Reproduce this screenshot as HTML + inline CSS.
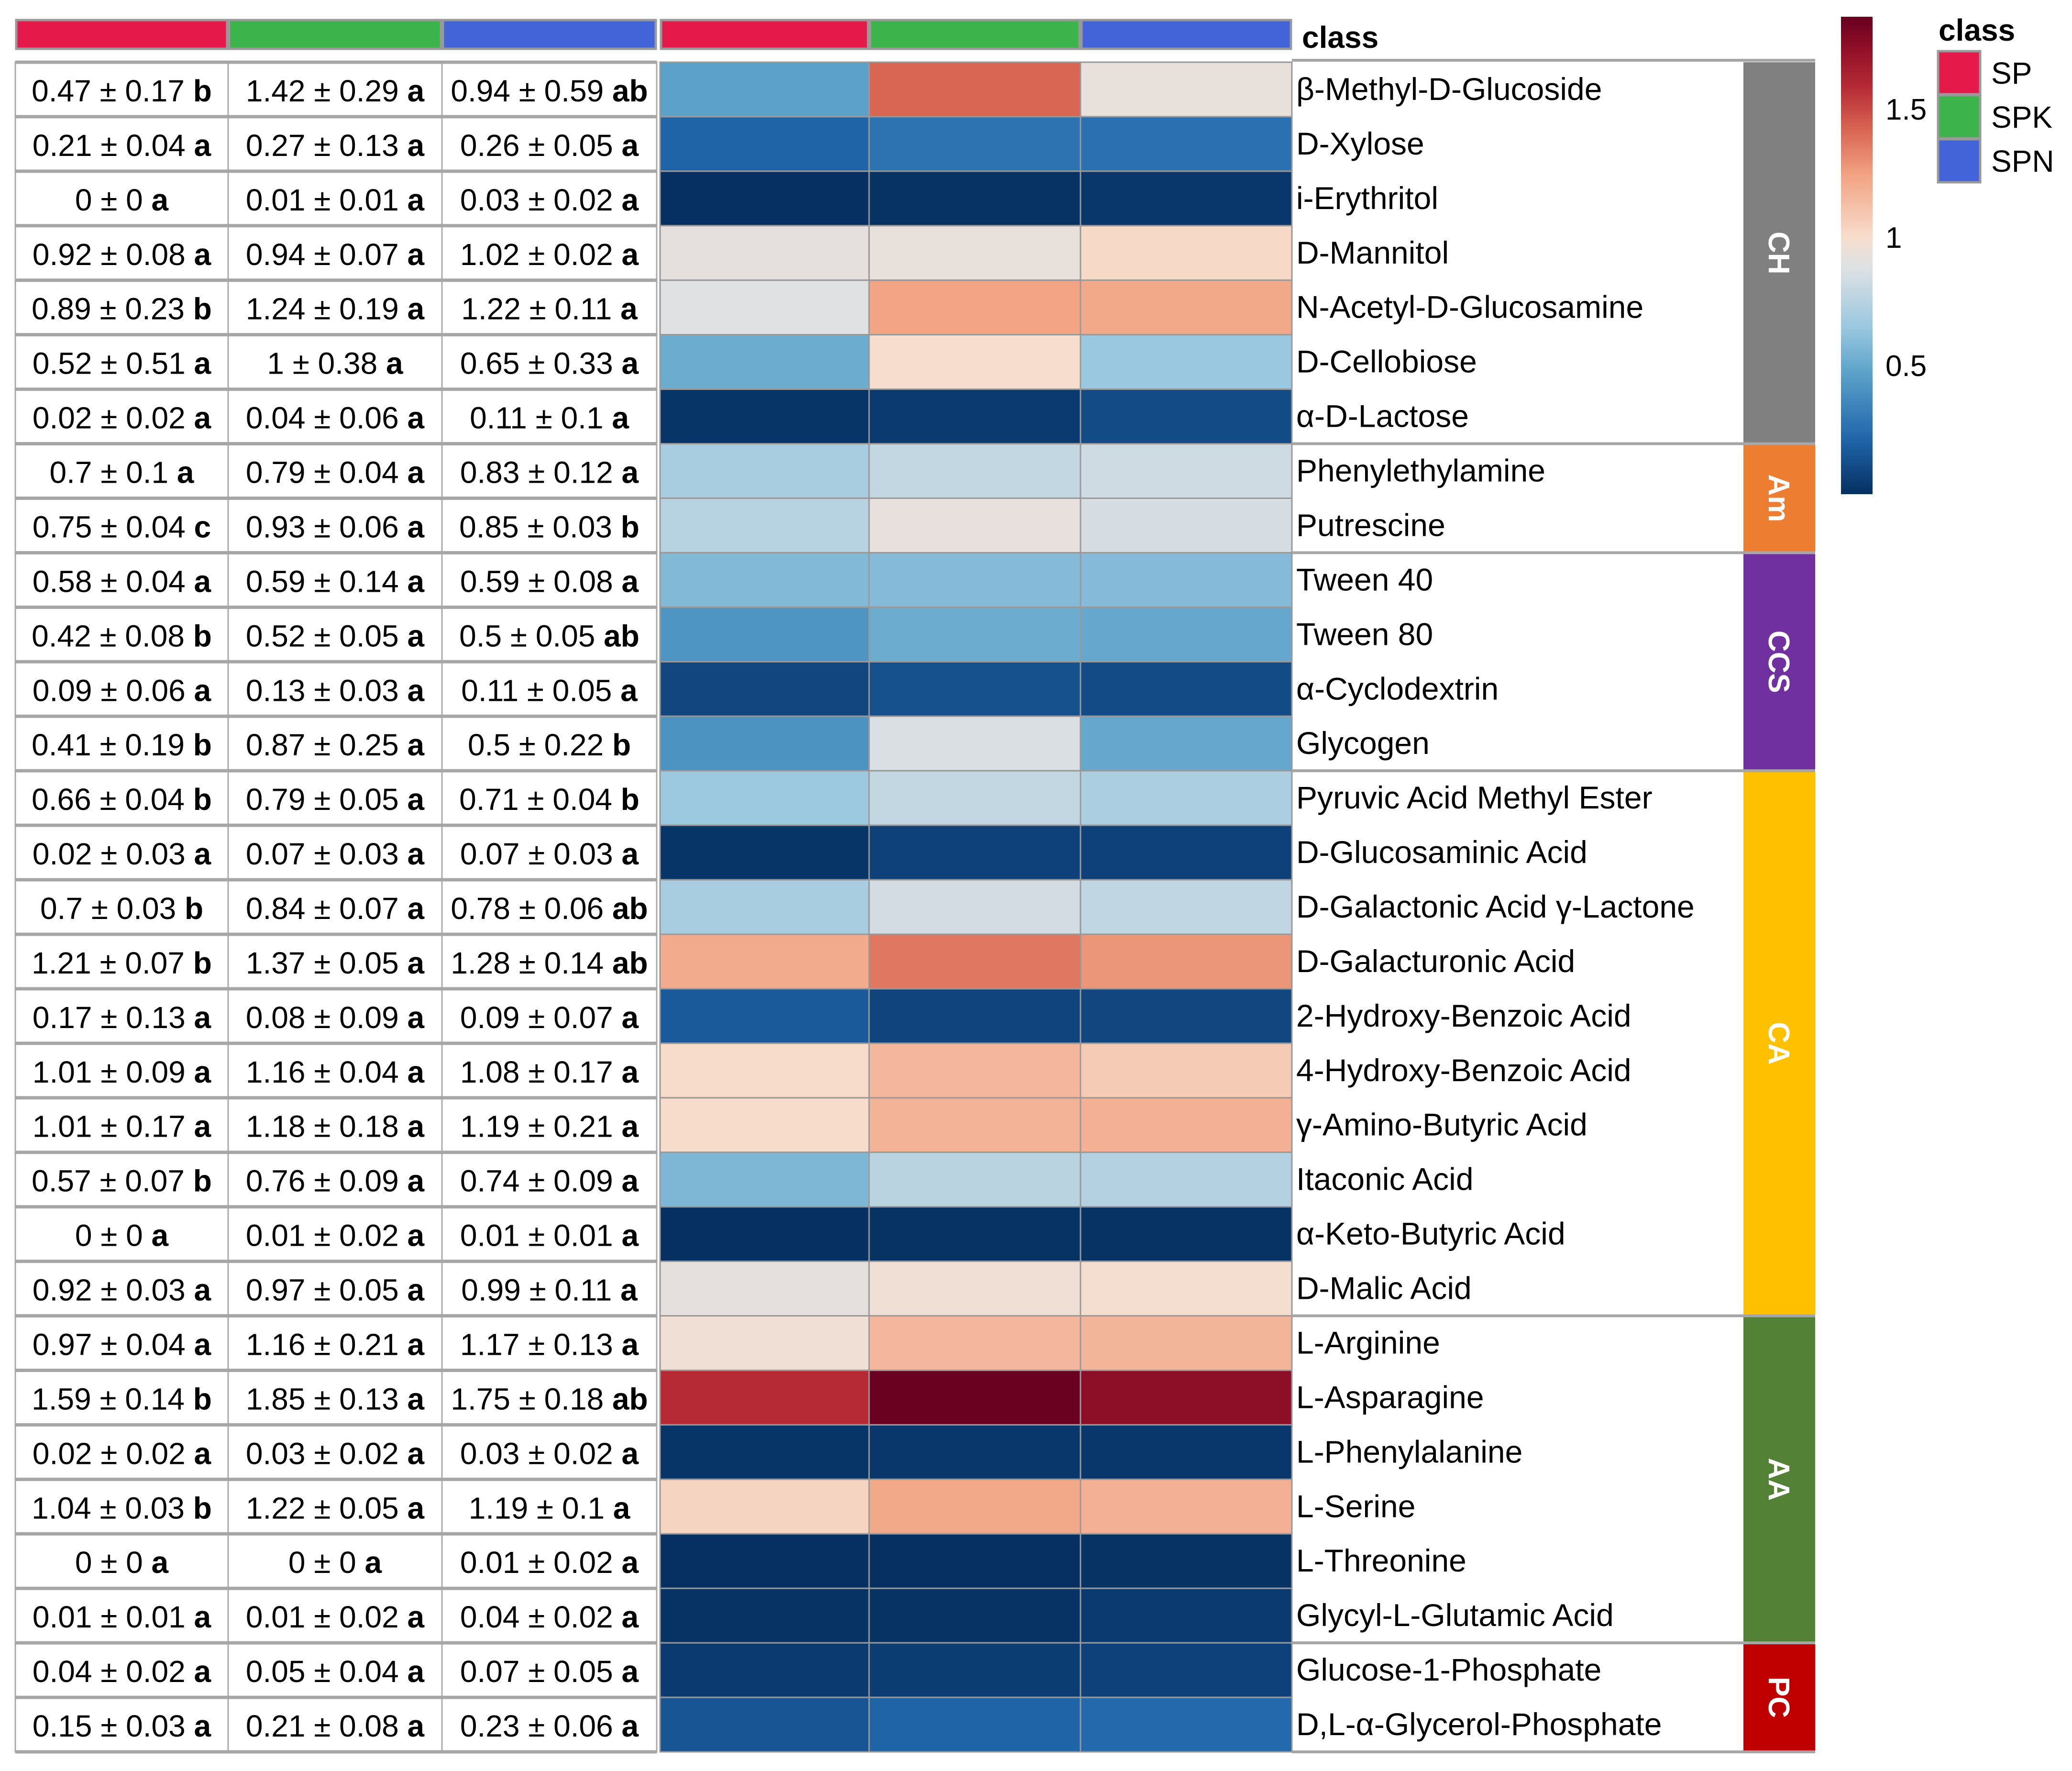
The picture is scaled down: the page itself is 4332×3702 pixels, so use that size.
<!DOCTYPE html>
<html><head><meta charset="utf-8"><style>
html,body{margin:0;padding:0;background:#fff;}
svg{display:block;font-family:"Liberation Sans","DejaVu Sans",sans-serif;}
</style></head><body>
<svg id="chart" width="4332" height="3702" viewBox="0 0 4332 3702" xmlns="http://www.w3.org/2000/svg"></svg>
<script>
const labels=["β-Methyl-D-Glucoside","D-Xylose","i-Erythritol","D-Mannitol","N-Acetyl-D-Glucosamine","D-Cellobiose","α-D-Lactose","Phenylethylamine","Putrescine","Tween 40","Tween 80","α-Cyclodextrin","Glycogen","Pyruvic Acid Methyl Ester","D-Glucosaminic Acid","D-Galactonic Acid γ-Lactone","D-Galacturonic Acid","2-Hydroxy-Benzoic Acid","4-Hydroxy-Benzoic Acid","γ-Amino-Butyric Acid","Itaconic Acid","α-Keto-Butyric Acid","D-Malic Acid","L-Arginine","L-Asparagine","L-Phenylalanine","L-Serine","L-Threonine","Glycyl-L-Glutamic Acid","Glucose-1-Phosphate","D,L-α-Glycerol-Phosphate"];
const meanSP=[0.47,0.21,0,0.92,0.89,0.52,0.02,0.7,0.75,0.58,0.42,0.09,0.41,0.66,0.02,0.7,1.21,0.17,1.01,1.01,0.57,0,0.92,0.97,1.59,0.02,1.04,0,0.01,0.04,0.15];
const sdSP=[0.17,0.04,0,0.08,0.23,0.51,0.02,0.1,0.04,0.04,0.08,0.06,0.19,0.04,0.03,0.03,0.07,0.13,0.09,0.17,0.07,0,0.03,0.04,0.14,0.02,0.03,0,0.01,0.02,0.03];
const letSP=["b","a","a","a","b","a","a","a","c","a","b","a","b","b","a","b","b","a","a","a","b","a","a","a","b","a","b","a","a","a","a"];
const meanSPK=[1.42,0.27,0.01,0.94,1.24,1,0.04,0.79,0.93,0.59,0.52,0.13,0.87,0.79,0.07,0.84,1.37,0.08,1.16,1.18,0.76,0.01,0.97,1.16,1.85,0.03,1.22,0,0.01,0.05,0.21];
const sdSPK=[0.29,0.13,0.01,0.07,0.19,0.38,0.06,0.04,0.06,0.14,0.05,0.03,0.25,0.05,0.03,0.07,0.05,0.09,0.04,0.18,0.09,0.02,0.05,0.21,0.13,0.02,0.05,0,0.02,0.04,0.08];
const letSPK=["a","a","a","a","a","a","a","a","a","a","a","a","a","a","a","a","a","a","a","a","a","a","a","a","a","a","a","a","a","a","a"];
const meanSPN=[0.94,0.26,0.03,1.02,1.22,0.65,0.11,0.83,0.85,0.59,0.5,0.11,0.5,0.71,0.07,0.78,1.28,0.09,1.08,1.19,0.74,0.01,0.99,1.17,1.75,0.03,1.19,0.01,0.04,0.07,0.23];
const sdSPN=[0.59,0.05,0.02,0.02,0.11,0.33,0.1,0.12,0.03,0.08,0.05,0.05,0.22,0.04,0.03,0.06,0.14,0.07,0.17,0.21,0.09,0.01,0.11,0.13,0.18,0.02,0.1,0.02,0.02,0.05,0.06];
const letSPN=["ab","a","a","a","a","a","a","a","b","a","ab","a","b","b","a","ab","ab","a","a","a","a","a","a","a","ab","a","a","a","a","a","a"];
const groupNames=["CH","Am","CCS","CA","AA","PC"];
const groupSizes=[7,2,4,10,6,2];
const groupColors=["#808080","#ED7D31","#7030A0","#FFC000","#538135","#C00000"];
const classNames=["SP","SPK","SPN"];
const classColors=["#E6194B","#3CB44B","#4363D8"];
const colorTicks=[0.5,1,1.5];
const vmin=0, vmax=1.86;

const NS="http://www.w3.org/2000/svg";
const svg=document.getElementById('chart');
function el(tag,attrs,parent){const e=document.createElementNS(NS,tag);for(const k in attrs)e.setAttribute(k,attrs[k]);(parent||svg).appendChild(e);return e;}
const top0=130, rowH=(3662-130)/31;
const rowY=i=>top0+i*rowH;
const tabX=[32,477,924,1373];
const hmX=[1380,1817,2259,2701];
// colour scale stops (fraction of range -> colour)
const stopT=[0,0.113,0.145,0.253,0.35,0.478,0.505,0.54,0.667,0.763,0.855,0.94,1];
const stopC=["#053061","#2064A8","#2D72B1","#5BA1C9","#9AC8E0","#E0E1E3","#E8E0DB","#F7DDCD","#F2A484","#D96653","#B52A35","#8D0E27","#67001F"];
function hex(c){return [1,3,5].map(i=>parseInt(c.substr(i,2),16));}
function color(v){let t=(v-vmin)/(vmax-vmin);t=Math.max(0,Math.min(1,t));let i=0;while(i<stopT.length-2&&t>stopT[i+1])i++;const f=(t-stopT[i])/(stopT[i+1]-stopT[i]);const a=hex(stopC[i]),b=hex(stopC[i+1]);return "rgb("+a.map((x,k)=>Math.round(x+(b[k]-x)*f)).join(",")+")";}

for(let k=0;k<3;k++){
  let r=el('rect',{x:tabX[k]+2,y:42,width:tabX[k+1]-tabX[k]-4,height:60,fill:classColors[k],stroke:'#999',"stroke-width":5});
  
  
  let r2=el('rect',{x:hmX[k]+2,y:42,width:hmX[k+1]-hmX[k]-4,height:60,fill:classColors[k],stroke:'#999',"stroke-width":5});
  
  
}
let ct=el('text',{x:2722,y:100,"font-size":64,"font-weight":"bold",fill:"#000"});ct.textContent="class";



el('rect',{x:2701,y:126,width:3645-2701,height:3662-126,fill:'#fff'});
el('line',{x1:2701,y1:126,x2:3795,y2:126,stroke:'#a6a6a6',"stroke-width":6});

const means=[meanSP,meanSPK,meanSPN], sds=[sdSP,sdSPK,sdSPN], lets=[letSP,letSPK,letSPN];
for(let i=0;i<labels.length;i++){
  const y=rowY(i);
  for(let k=0;k<3;k++){
    const c=el('rect',{x:tabX[k],y:y,width:tabX[k+1]-tabX[k],height:rowH,fill:'#fff',stroke:'#aaa',"stroke-width":3});
    
    
    const t=el('text',{x:(tabX[k]+tabX[k+1])/2,y:y+rowH/2+25,"font-size":64,"text-anchor":"middle",fill:"#000"});
    
    
    t.appendChild(document.createTextNode(means[k][i]+" ± "+sds[k][i]+" "));
    const b=el('tspan',{"font-weight":"bold"},t);b.textContent=lets[k][i];
    const h=el('rect',{x:hmX[k],y:y,width:hmX[k+1]-hmX[k],height:rowH,fill:color(means[k][i]),stroke:'#999',"stroke-width":3});
    
    
  }
  el('line',{x1:tabX[0],y1:y,x2:tabX[3],y2:y,stroke:'#a6a6a6',"stroke-width":7});
  const l=el('text',{x:2710,y:y+rowH/2+22,"font-size":66,fill:"#000"});
  l.textContent=labels[i];
  
  
}
el('line',{x1:tabX[0],y1:3662,x2:tabX[3],y2:3662,stroke:'#a6a6a6',"stroke-width":7});

let gi=0;
for(let g=0;g<groupNames.length;g++){
  const y0=rowY(gi), y1=rowY(gi+groupSizes[g]);
  const r=el('rect',{x:3645,y:y0,width:150,height:y1-y0,fill:groupColors[g]});
  
  
  if(g>0){el('line',{x1:2701,y1:y0,x2:3795,y2:y0,stroke:'#a6a6a6',"stroke-width":6});}
  const cy=(y0+y1)/2;
  const t=el('text',{x:0,y:0,"font-size":62,"font-weight":"bold",fill:"#fff","text-anchor":"middle",transform:`translate(3698,${cy}) rotate(90)`});
  t.textContent=groupNames[g];
  
  
  gi+=groupSizes[g];
}
el('line',{x1:2701,y1:3662,x2:3795,y2:3662,stroke:'#a6a6a6',"stroke-width":6});

const cbTop=35, cbBot=1032, cbX=3849, cbW=66;
const cbY=v=>cbBot-(v-vmin)/(vmax-vmin)*(cbBot-cbTop);
const cbg=el('g',{});


const N=200;
for(let j=0;j<N;j++){
  const v0=vmin+(vmax-vmin)*j/N, v1=vmin+(vmax-vmin)*(j+1)/N;
  el('rect',{x:cbX,y:cbY(v1),width:cbW,height:cbY(v0)-cbY(v1)+1,fill:color((v0+v1)/2)},cbg);
}
colorTicks.forEach(v=>{
  const t=el('text',{x:3942,y:cbY(v)+22,"font-size":62,fill:"#000"});
  t.textContent=String(v);
  
  
});

const lt=el('text',{x:4053,y:85,"font-size":64,"font-weight":"bold",fill:"#000"});lt.textContent="class";


for(let k=0;k<3;k++){
  const y=107+k*92;
  const r=el('rect',{x:4052,y:y,width:88,height:90,fill:classColors[k],stroke:'#999',"stroke-width":5});
  
  
  const t=el('text',{x:4163,y:y+68,"font-size":64,fill:"#000"});t.textContent=classNames[k];
  
  
}
</script>
</body></html>
